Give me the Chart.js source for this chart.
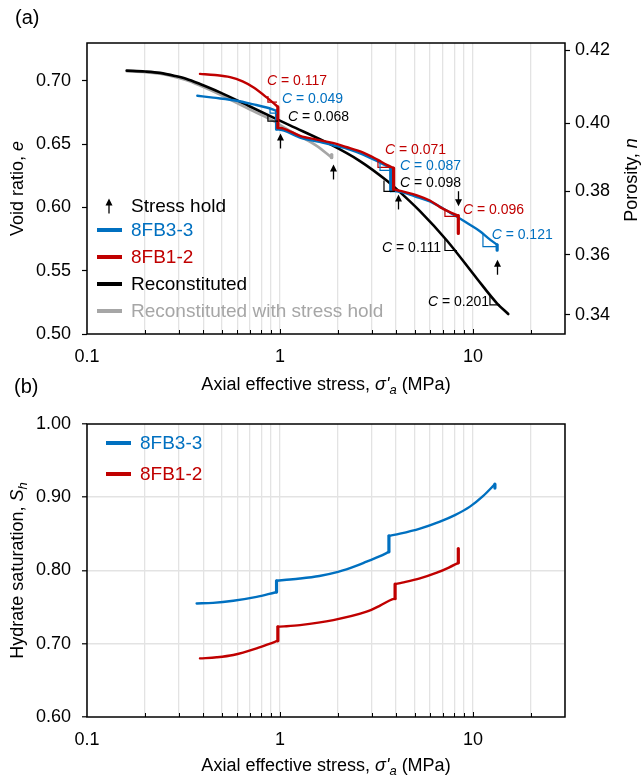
<!DOCTYPE html>
<html>
<head>
<meta charset="utf-8">
<script src="https://cdn.jsdelivr.net/npm/chart.js@4.4.0/dist/chart.umd.min.js"></script>
<style>
  body { margin: 0; background: #fff; }
  #wrap { position: relative; width: 642px; height: 775px; overflow: hidden; }
  canvas { position: absolute; left: 0; }
  #chartA { top: 0; }
  #chartB { top: 372px; }
</style>
</head>
<body>
<div id="wrap">
  <canvas id="chartA" width="642" height="400"></canvas>
  <canvas id="chartB" width="642" height="403"></canvas>
</div>
<script>
// ---- data: [axial effective stress (MPa), value] ----
// a stress hold shows up as two points at the same stress
const blueVoid = [
  [0.373, 0.6883], [0.45, 0.6868], [0.597, 0.6844], [0.73, 0.6815], [0.853, 0.679], [0.96, 0.6764],
  [0.96, 0.6619],
  [1.05, 0.6608], [1.27, 0.6553], [1.6, 0.6518], [1.89, 0.6492], [2.3, 0.6458], [2.7, 0.6418],
  [3.3, 0.6355], [3.75, 0.6312],
  [3.75, 0.6132],
  [4.27, 0.6122], [5.0, 0.6088], [5.98, 0.6048], [7.0, 0.5992], [8.23, 0.5928], [9.6, 0.5865],
  [10.87, 0.5812], [12.0, 0.5758], [13.35, 0.5705],
  [13.35, 0.5662]
];
const redVoid = [
  [0.385, 0.7056], [0.46, 0.7047], [0.551, 0.703], [0.64, 0.6996], [0.727, 0.695], [0.853, 0.687], [0.975, 0.6795],
  [0.975, 0.663],
  [1.05, 0.6622], [1.27, 0.6566], [1.55, 0.6536], [1.85, 0.6512], [2.2, 0.6478], [2.7, 0.6434],
  [3.2, 0.6378], [3.6, 0.6335], [3.88, 0.6312],
  [3.88, 0.6143],
  [4.27, 0.6129], [5.3, 0.6088], [5.98, 0.6055], [6.75, 0.6003], [7.5, 0.5967], [8.4, 0.5935],
  [8.4, 0.5795]
];
const reconVoid = [
  [0.1606, 0.7082], [0.1998, 0.7075], [0.239, 0.7064], [0.2858, 0.704], [0.3286, 0.7016], [0.3851, 0.6976],
  [0.4888, 0.691], [0.6993, 0.6798], [1.127, 0.6649], [1.816, 0.650], [2.597, 0.6367], [3.571, 0.6213],
  [4.038, 0.6143], [5.314, 0.5971], [7.307, 0.5741], [10.45, 0.5441], [13.32, 0.5243], [15.24, 0.5158]
];
const reconHoldVoid = [
  [0.1606, 0.7077], [0.1998, 0.707], [0.239, 0.7057], [0.2858, 0.7032], [0.3286, 0.7006], [0.3851, 0.6964],
  [0.4888, 0.6893], [0.6993, 0.6774], [0.8877, 0.6698], [1.127, 0.6606], [1.55, 0.6487], [1.853, 0.6394],
  [1.853, 0.6418]
];
const blueSat = [
  [0.37, 0.755], [0.45, 0.7558], [0.573, 0.7587], [0.757, 0.764], [0.942, 0.770], [0.96, 0.7705],
  [0.96, 0.786],
  [1.05, 0.787], [1.27, 0.789], [1.6, 0.7925], [2.0, 0.798], [2.5, 0.8065], [2.81, 0.812], [3.3, 0.8195], [3.67, 0.8255],
  [3.67, 0.8473],
  [4.187, 0.8503], [5.314, 0.8572], [6.745, 0.8667], [8.066, 0.8756], [9.65, 0.8872], [11.27, 0.9015],
  [13.0, 0.9179],
  [13.0, 0.9125]
];
const redSat = [
  [0.385, 0.680], [0.47, 0.6815], [0.573, 0.6846], [0.757, 0.6937], [0.942, 0.7027], [0.975, 0.704],
  [0.975, 0.7232],
  [1.05, 0.7237], [1.27, 0.7255], [1.89, 0.7323], [2.81, 0.7437], [3.3, 0.752], [3.81, 0.7606], [3.95, 0.7615],
  [3.95, 0.7815],
  [4.3, 0.7835], [5.31, 0.7892], [6.5, 0.797], [7.5, 0.804], [8.4, 0.8105],
  [8.4, 0.830]
];

// axis ticks
const stressTicks = [0.1, 0.2, 0.3, 0.4, 0.5, 0.6, 0.7, 0.8, 0.9, 1, 2, 3, 4, 5, 6, 7, 8, 9, 10, 20, 30];
const stressLabels = ['0.1', '1', '10'];
const voidTicks = [0.50, 0.55, 0.60, 0.65, 0.70];
const porosityTicks = [0.34, 0.36, 0.38, 0.40, 0.42];
const satTicks = [0.60, 0.70, 0.80, 0.90, 1.00];

// stress hold arrows: [stress, void ratio at tip, +1 up / -1 down]
const holdArrows = [[1.0, 0.6585, 1], [1.89, 0.634, 1], [4.10, 0.6103, 1], [8.4, 0.601, -1], [13.35, 0.5587, 1]];
// slope markers: [stress left, stress right, e top, e bottom, series]
const slopeMarks = [
  [0.866, 0.965, 0.6881, 0.6833, 'red'],
  [0.888, 0.965, 0.6778, 0.6746, 'blue'],
  [0.866, 0.977, 0.6730, 0.6683, 'black'],
  [3.22, 3.80, 0.6373, 0.6317, 'red'],
  [3.30, 3.72, 0.6349, 0.6294, 'blue'],
  [3.46, 3.94, 0.6214, 0.6127, 'black'],
  [7.16, 8.36, 0.5984, 0.5929, 'red'],
  [7.16, 8.26, 0.5758, 0.5660, 'black'],
  [11.27, 13.3, 0.5790, 0.5690, 'blue'],
  [12.25, 13.8, 0.5310, 0.5230, 'black']
];
// compression index labels: [value, stress at left edge, void ratio, series]
const cLabels = [
  ['0.117', 0.856, 0.700, 'red'],
  ['0.049', 1.024, 0.6857, 'blue'],
  ['0.068', 1.10, 0.6714, 'black'],
  ['0.071', 3.50, 0.6452, 'red'],
  ['0.087', 4.19, 0.6325, 'blue'],
  ['0.098', 4.19, 0.6190, 'black'],
  ['0.096', 8.88, 0.5976, 'red'],
  ['0.121', 12.5, 0.5778, 'blue'],
  ['0.111', 3.38, 0.5675, 'black'],
  ['0.201', 5.85, 0.5254, 'black']
];

const FONT = '"Liberation Sans", Arial, Helvetica, sans-serif';
const COLORS = { blue: '#0070C0', red: '#C00000', black: '#000000', gray: '#A6A6A6' };
const GRID = '#E3E3E3';

// split a curve at the holds so the smooth parts can be monotone splines
function splitAtHolds(points) {
  const out = [];
  let cur = [points[0]];
  for (let i = 1; i < points.length; i++) {
    if (points[i][0] === points[i - 1][0]) {
      if (cur.length > 1) out.push({ pts: cur, step: false });
      out.push({ pts: [points[i - 1], points[i]], step: true });
      cur = [points[i]];
    } else {
      cur.push(points[i]);
    }
  }
  if (cur.length > 1) out.push({ pts: cur, step: false });
  return out;
}

function seriesSets(points, color, width) {
  return splitAtHolds(points).map(p => ({
    data: p.pts.map(([x, y]) => ({ x, y })),
    borderColor: color,
    borderWidth: p.step ? width + 0.8 : width,
    borderCapStyle: 'round',
    borderJoinStyle: 'round',
    pointRadius: 0,
    cubicInterpolationMode: p.step ? 'default' : 'monotone',
    clip: false
  }));
}

// text with italic / subscript runs: parts = [[text, italic, sub], ...]
function richText(ctx, parts, x, y, size, color, align, rot) {
  ctx.save();
  ctx.translate(x, y);
  if (rot) ctx.rotate(rot);
  ctx.fillStyle = color;
  ctx.textBaseline = 'middle';
  ctx.textAlign = 'left';
  const fontOf = p => (p[1] ? 'italic ' : '') + (p[2] ? Math.round(size * 0.7) : size) + 'px ' + FONT;
  let w = 0;
  parts.forEach(p => { ctx.font = fontOf(p); w += ctx.measureText(p[0]).width; });
  let cx = align === 'center' ? -w / 2 : align === 'right' ? -w : 0;
  parts.forEach(p => {
    ctx.font = fontOf(p);
    ctx.fillText(p[0], cx, p[2] ? size * 0.28 : 0);
    cx += ctx.measureText(p[0]).width;
  });
  ctx.restore();
}

function arrow(ctx, x, tipY, dir) {
  const len = 15, head = 7, hw = 3.5;
  ctx.save();
  ctx.strokeStyle = '#000';
  ctx.fillStyle = '#000';
  ctx.lineWidth = 1.3;
  ctx.beginPath();
  ctx.moveTo(x, tipY + dir * (head - 1));
  ctx.lineTo(x, tipY + dir * len);
  ctx.stroke();
  ctx.beginPath();
  ctx.moveTo(x, tipY);
  ctx.lineTo(x - hw, tipY + dir * head);
  ctx.lineTo(x + hw, tipY + dir * head);
  ctx.closePath();
  ctx.fill();
  ctx.restore();
}

function frameAndTicks(ctx, area, xScale) {
  ctx.save();
  ctx.strokeStyle = '#000';
  ctx.lineWidth = 1;
  stressTicks.forEach(v => {
    if (v === 0.1 || v === 30) return;
    const px = Math.round(xScale.getPixelForValue(v)) + 0.5;
    const l = stressLabels.includes(String(v)) ? 5 : 4;
    ctx.beginPath();
    ctx.moveTo(px, area.bottom);
    ctx.lineTo(px, area.bottom - l);
    ctx.stroke();
  });
  ctx.lineWidth = 1.5;
  ctx.strokeRect(area.left, area.top, area.right - area.left, area.bottom - area.top);
  ctx.restore();
}

function legendRow(ctx, x, y, color, label, kind) {
  ctx.save();
  if (kind === 'arrow') {
    arrow(ctx, x + 12, y - 7.5, 1);
  } else {
    ctx.strokeStyle = color;
    ctx.lineWidth = 4;
    ctx.beginPath();
    ctx.moveTo(x, y);
    ctx.lineTo(x + 25, y);
    ctx.stroke();
  }
  ctx.font = '19px ' + FONT;
  ctx.fillStyle = kind === 'arrow' ? '#000' : color;
  ctx.textBaseline = 'middle';
  ctx.textAlign = 'left';
  ctx.fillText(label, x + 34, y + 1);
  ctx.restore();
}

const xTitle = [['Axial effective stress, '], ['σ\'', true], ['a', true, true], [' (MPa)']];

const panelAPlugin = {
  id: 'panelA',
  afterDraw(chart) {
    const { ctx, chartArea: a, scales } = chart;
    const X = v => scales.x.getPixelForValue(v);
    const Y = v => scales.y.getPixelForValue(v);
    frameAndTicks(ctx, a, scales.x);

    // slope markers
    slopeMarks.forEach(([s0, s1, e0, e1, c]) => {
      const x0 = X(s0), x1 = X(s1), y0 = Y(e0), y1 = Y(e1);
      ctx.save();
      ctx.strokeStyle = COLORS[c];
      ctx.lineWidth = 1.2;
      ctx.beginPath();
      ctx.moveTo(x0, y0);
      ctx.lineTo(x0, y1);
      ctx.lineTo(x1, y1);
      ctx.stroke();
      ctx.restore();
    });
    cLabels.forEach(([txt, s, e, c]) => {
      richText(ctx, [['C', true], [' = ' + txt]], X(s), Y(e), 14, COLORS[c], 'left');
    });
    holdArrows.forEach(([s, e, d]) => arrow(ctx, Math.round(X(s)) + 0.5, Y(e), d === 1 ? 1 : -1));

    // legend
    legendRow(ctx, 97, 206, '#000', 'Stress hold', 'arrow');
    legendRow(ctx, 97, 230, COLORS.blue, '8FB3-3');
    legendRow(ctx, 97, 257, COLORS.red, '8FB1-2');
    legendRow(ctx, 97, 284, COLORS.black, 'Reconstituted');
    legendRow(ctx, 97, 311, COLORS.gray, 'Reconstituted with stress hold');

    // titles
    const mid = (a.left + a.right) / 2;
    richText(ctx, xTitle, mid, a.bottom + 51, 18, '#000', 'center');
    richText(ctx, [['Void ratio, '], ['e', true]], 18, (a.top + a.bottom) / 2, 18, '#000', 'center', -Math.PI / 2);
    richText(ctx, [['Porosity, '], ['n', true]], 632, 180, 18, '#000', 'center', -Math.PI / 2);
    richText(ctx, [['(a)']], 15, 18, 20, '#000', 'left');
  }
};

const panelBPlugin = {
  id: 'panelB',
  afterDraw(chart) {
    const { ctx, chartArea: a, scales } = chart;
    frameAndTicks(ctx, a, scales.x);
    legendRow(ctx, 106, 71, COLORS.blue, '8FB3-3');
    legendRow(ctx, 106, 102, COLORS.red, '8FB1-2');
    const mid = (a.left + a.right) / 2;
    richText(ctx, xTitle, mid, a.bottom + 49, 18, '#000', 'center');
    richText(ctx, [['Hydrate saturation, '], ['S', true], ['h', true, true]], 18, (a.top + a.bottom) / 2, 18, '#000', 'center', -Math.PI / 2);
    richText(ctx, [['(b)']], 14, 15, 20, '#000', 'left');
  }
};

function stressAxis(height) {
  return {
    type: 'logarithmic',
    min: 0.1,
    max: 30,
    afterBuildTicks: s => { s.ticks = stressTicks.map(v => ({ value: v })); },
    afterFit: s => { s.height = height; },
    ticks: {
      autoSkip: false,
      maxRotation: 0,
      padding: 12,
      color: '#000',
      font: { family: FONT, size: 18 },
      callback: v => stressLabels.includes(String(v)) ? String(v) : ''
    },
    grid: { color: GRID, lineWidth: 1.3, drawTicks: false },
    border: { display: false }
  };
}

const tickFont = { family: FONT, size: 18 };

new Chart(document.getElementById('chartA'), {
  type: 'line',
  data: {
    datasets: [
      ...seriesSets(redVoid, COLORS.red, 2.4),
      ...seriesSets(blueVoid, COLORS.blue, 2.4),
      ...seriesSets(reconVoid, COLORS.black, 2.6),
      ...seriesSets(reconHoldVoid, COLORS.gray, 2.6)
    ]
  },
  options: {
    responsive: false,
    animation: false,
    layout: { padding: { top: 43, left: 0, right: 0, bottom: 0 } },
    plugins: { legend: { display: false }, tooltip: { enabled: false } },
    scales: {
      x: stressAxis(66),
      y: {
        min: 0.5,
        max: 0.73,
        afterBuildTicks: s => { s.ticks = voidTicks.map(v => ({ value: v })); },
        afterFit: s => { s.width = 87; },
        ticks: { padding: 11, color: '#000', font: tickFont, callback: v => v.toFixed(2) },
        grid: { drawOnChartArea: false, tickLength: 5, tickColor: '#000', tickWidth: 1.2 },
        border: { display: false }
      },
      y2: {
        position: 'right',
        min: 0.5,
        max: 0.73,
        // porosity n = e / (1 + e), placed on the void ratio scale
        afterBuildTicks: s => { s.ticks = porosityTicks.map(n => ({ value: n / (1 - n) })); },
        afterFit: s => { s.width = 77; },
        ticks: { padding: 5, color: '#000', font: tickFont, callback: v => (v / (1 + v)).toFixed(2) },
        grid: { drawOnChartArea: false, tickLength: 5, tickColor: '#000', tickWidth: 1.2 },
        border: { display: false }
      }
    }
  },
  plugins: [panelAPlugin]
});

new Chart(document.getElementById('chartB'), {
  type: 'line',
  data: {
    datasets: [
      ...seriesSets(redSat, COLORS.red, 2.4),
      ...seriesSets(blueSat, COLORS.blue, 2.4)
    ]
  },
  options: {
    responsive: false,
    animation: false,
    layout: { padding: { top: 52, left: 0, right: 77, bottom: 0 } },
    plugins: { legend: { display: false }, tooltip: { enabled: false } },
    scales: {
      x: stressAxis(58),
      y: {
        min: 0.6,
        max: 1.0,
        afterBuildTicks: s => { s.ticks = satTicks.map(v => ({ value: v })); },
        afterFit: s => { s.width = 87; },
        ticks: { padding: 11, color: '#000', font: tickFont, callback: v => v.toFixed(2) },
        grid: {
          color: c => (c.tick && (c.tick.value === 0.6 || c.tick.value === 1.0)) ? 'rgba(0,0,0,0)' : GRID,
          lineWidth: 1.6,
          tickLength: 5,
          tickColor: '#000',
          tickWidth: 1.2
        },
        border: { display: false }
      }
    }
  },
  plugins: [panelBPlugin]
});
</script>
</body>
</html>
